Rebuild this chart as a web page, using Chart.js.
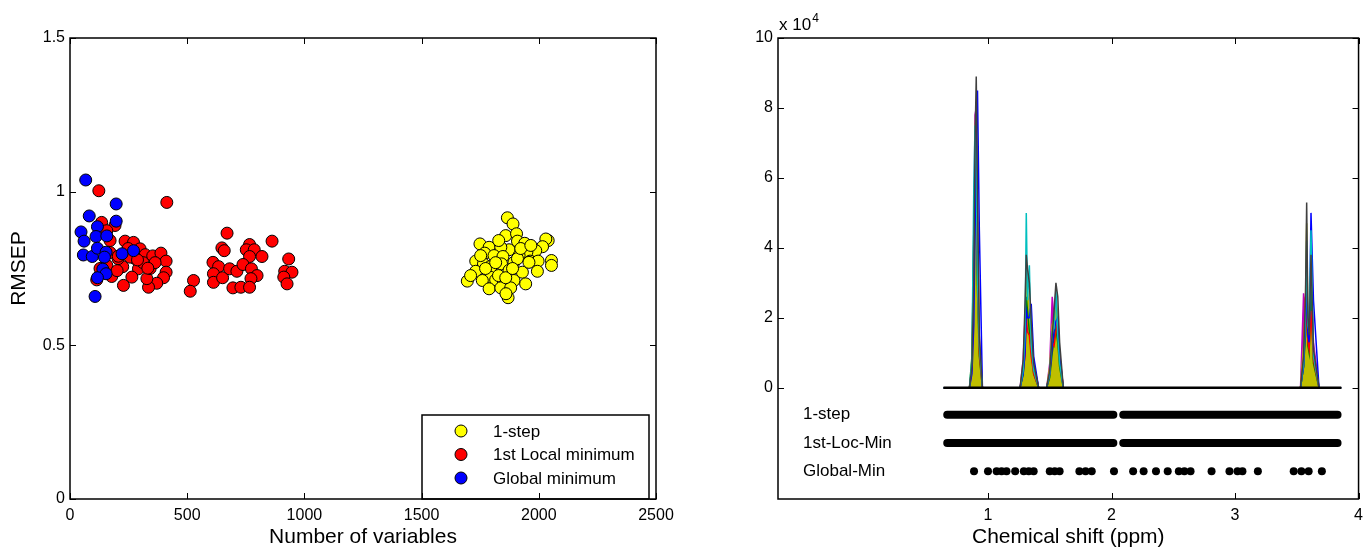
<!DOCTYPE html>
<html>
<head>
<meta charset="utf-8">
<title>RMSEP and selected variables</title>
<script src="https://cdn.jsdelivr.net/npm/chart.js@4.4.1/dist/chart.umd.min.js"></script>
<style>
  html, body { margin: 0; padding: 0; background: #fff; }
  #wrap { position: relative; width: 1370px; height: 548px; }
  .panel { position: absolute; top: 0; width: 685px; height: 548px; }
</style>
</head>
<body>
<div id="wrap">
  <div class="panel" style="left:0"><canvas id="rmsepChart" width="685" height="548"></canvas></div>
  <div class="panel" style="left:685px"><canvas id="specChart" width="685" height="548"></canvas></div>
</div>
<script>
// ---- left panel: RMSEP vs number of variables ----
const oneStepX = [1866, 1890, 1749, 1788, 1859, 1905, 1909, 1940, 2040, 2030, 2016, 1987, 1949, 1873, 1838,
  1769, 1809, 1847, 1916, 1963, 1997, 2054, 2054, 1731, 1764, 1792, 1841, 1894, 1731, 1795, 1873, 1930, 1994,
  1792, 1759, 1695, 1816, 1849, 1894, 1944, 1788, 1838, 1880, 1869, 1909, 1828, 1859, 1958, 1709, 1773, 1816,
  1923, 1966, 1829, 1752, 1888, 1860];
const oneStepY = [0.915, 0.895, 0.830, 0.819, 0.857, 0.863, 0.839, 0.832, 0.841, 0.846, 0.821, 0.808, 0.803, 0.811, 0.819,
  0.800, 0.792, 0.789, 0.792, 0.774, 0.774, 0.776, 0.760, 0.774, 0.765, 0.756, 0.765, 0.770, 0.741, 0.741, 0.744, 0.738, 0.741,
  0.722, 0.711, 0.709, 0.713, 0.706, 0.711, 0.700, 0.684, 0.687, 0.687, 0.655, 0.782, 0.727, 0.720, 0.770, 0.727, 0.750, 0.769,
  0.815, 0.825, 0.841, 0.792, 0.750, 0.668];

const localMinX = [123, 413, 135, 192, 157, 235, 271, 299, 321, 353, 388, 410, 410, 399, 370, 335, 328, 292, 264, 228,
  225, 178, 157, 114, 527, 513, 670, 648, 658, 766, 752, 786, 862, 819, 766, 610, 634, 612, 612, 651, 681, 712, 738,
  774, 798, 772, 695, 729, 766, 933, 916, 947, 912, 926, 171, 205, 248, 312, 342, 363, 201, 128, 278, 171, 206, 332,
  256, 288];
const localMinY = [1.003, 0.965, 0.900, 0.890, 0.873, 0.839, 0.835, 0.814, 0.795, 0.791, 0.800, 0.774, 0.738, 0.720, 0.702,
  0.689, 0.717, 0.749, 0.722, 0.695, 0.756, 0.724, 0.760, 0.713, 0.711, 0.676, 0.865, 0.817, 0.808, 0.828, 0.811, 0.811,
  0.839, 0.789, 0.789, 0.770, 0.756, 0.733, 0.705, 0.720, 0.749, 0.741, 0.763, 0.749, 0.727, 0.717, 0.687, 0.689, 0.689,
  0.781, 0.741, 0.738, 0.722, 0.700, 0.841, 0.782, 0.815, 0.769, 0.750, 0.769, 0.743, 0.750, 0.782, 0.802, 0.790, 0.751,
  0.787, 0.778];

const globalMinX = [67, 197, 82, 197, 47, 117, 60, 111, 157, 57, 95, 117, 154, 147, 222, 271, 140, 154, 117, 107];
const globalMinY = [1.038, 0.960, 0.921, 0.904, 0.869, 0.886, 0.839, 0.854, 0.856, 0.794, 0.789, 0.816, 0.803, 0.787,
  0.798, 0.808, 0.748, 0.733, 0.720, 0.659];

const varTicks = [0, 500, 1000, 1500, 2000, 2500];
const rmsepTicks = [0, 0.5, 1, 1.5];

// ---- right panel: spectra and selected variables ----
const specPpm = [0.64,
  0.85, 0.87, 0.885, 0.895, 0.905, 0.915, 0.93, 0.955,
  1.26, 1.285, 1.30, 1.31, 1.32, 1.335, 1.35, 1.37, 1.41,
  1.475, 1.50, 1.52, 1.535, 1.55, 1.565, 1.58, 1.61,
  3.53, 3.555, 3.57, 3.58, 3.59, 3.60, 3.615, 3.635, 3.68,
  3.86];
// intensities in units of 10^4
const specGreen = [0, 0, 0.9, 4.5, 5.5, 4.6, 2.8, 0.9, 0, 0, 0.4, 1.2, 2.6, 2.2, 1.6, 1.1, 0.4, 0,
  0, 0.3, 1.0, 1.4, 1.7, 1.3, 0.6, 0, 0, 0.6, 1.5, 2.6, 1.2, 1.0, 2.8, 0.7, 0, 0];
const specRed = [0, 0, 0.6, 3.4, 6.8, 5.5, 3.5, 1.0, 0, 0, 0.5, 0.9, 2.0, 1.6, 1.5, 0.9, 0.4, 0,
  0, 0.4, 1.3, 1.2, 1.6, 1.9, 0.8, 0, 0, 0.8, 2.6, 2.0, 1.3, 1.1, 2.2, 0.8, 0, 0];
const specYellow = [0, 0, 0.5, 3.0, 7.2, 8.2, 4.8, 1.2, 0, 0, 0.6, 1.4, 3.4, 2.8, 2.0, 1.2, 0.6, 0,
  0, 0.6, 1.8, 2.0, 2.5, 2.1, 0.9, 0, 0, 1.2, 2.4, 4.7, 1.7, 1.5, 3.5, 1.0, 0, 0];
const specMagenta = [0, 0, 0.6, 4.2, 7.8, 8.0, 4.4, 1.4, 0, 0, 0.8, 2.0, 3.0, 2.6, 2.2, 1.4, 0.7, 0,
  0, 0.7, 2.6, 2.0, 2.3, 1.8, 1.0, 0, 0, 2.7, 2.2, 3.6, 1.6, 1.4, 3.0, 1.3, 0, 0];
const specCyan = [0, 0, 0.8, 5.7, 7.5, 6.0, 3.2, 1.2, 0, 0, 0.5, 1.5, 5.0, 2.5, 3.5, 1.2, 0.5, 0,
  0, 0.4, 1.6, 1.7, 2.8, 1.5, 0.7, 0, 0, 0.7, 2.0, 4.2, 1.8, 1.6, 4.5, 0.9, 0, 0];
const specBlue = [0, 0, 0.4, 1.8, 4.5, 7.2, 8.5, 4.5, 0, 0, 0.4, 1.0, 2.2, 2.0, 2.0, 2.4, 0.9, 0,
  0, 0.4, 1.2, 1.6, 1.9, 2.0, 0.9, 0, 0, 0.6, 1.8, 3.0, 1.5, 1.3, 5.0, 2.5, 0, 0];
const specGray = [0, 0, 0.6, 3.0, 7.0, 8.9, 5.5, 1.5, 0, 0, 0.8, 2.4, 3.8, 3.4, 3.0, 1.9, 0.7, 0,
  0, 0.5, 1.5, 2.2, 3.0, 2.6, 1.3, 0, 0, 0.9, 2.5, 5.3, 2.0, 1.5, 3.8, 1.1, 0, 0];

const baselinePpm = [0.64, 3.86];

// rows of selected variables (drawn below the spectra)
const rowLabels = ["1-step", "1st-Loc-Min", "Global-Min"];
const rowLevels = [-0.77, -1.58, -2.39];
const oneStepSpans = [[0.67, 2.015], [2.095, 3.83]];
const locMinSpans = [[0.67, 2.015], [2.095, 3.83]];
const globalMinPpm = [0.887, 1.0, 1.07, 1.11, 1.15, 1.22, 1.29, 1.33, 1.37, 1.50, 1.54, 1.58, 1.74, 1.79, 1.84,
  2.02, 2.175, 2.26, 2.36, 2.455, 2.545, 2.59, 2.64, 2.81, 2.955, 3.02, 3.06, 3.185, 3.475, 3.537, 3.596, 3.703];

const shiftTicks = [1, 2, 3, 4];
const intensityTicks = [0, 2, 4, 6, 8, 10];

// ---------------------------------------------------------------
const FONT = "'Liberation Sans', Arial, Helvetica, sans-serif";
Chart.defaults.font.family = FONT;
Chart.defaults.color = "#000";

function toPoints(xs, ys) {
  return xs.map((x, i) => ({ x: x, y: ys[i] }));
}

function spansToPoints(spans, level) {
  const pts = [];
  spans.forEach((s, i) => {
    if (i > 0) pts.push({ x: (spans[i - 1][1] + s[0]) / 2, y: null });
    pts.push({ x: s[0], y: level }, { x: s[1], y: level });
  });
  return pts;
}

// box + inward ticks on all four sides, like matlab axes
const framePlugin = {
  id: "frame",
  afterDatasetsDraw(chart) {
    const { ctx, chartArea: a, scales } = chart;
    const len = 6;
    ctx.save();
    ctx.strokeStyle = "#000";
    ctx.lineWidth = 1.5;
    ctx.strokeRect(a.left, a.top, a.right - a.left, a.bottom - a.top);
    ctx.lineWidth = 1;
    ctx.beginPath();
    scales.x.ticks.forEach(t => {
      const px = Math.round(scales.x.getPixelForValue(t.value)) + 0.5;
      ctx.moveTo(px, a.bottom); ctx.lineTo(px, a.bottom - len);
      ctx.moveTo(px, a.top); ctx.lineTo(px, a.top + len);
    });
    scales.y.ticks.forEach(t => {
      const py = Math.round(scales.y.getPixelForValue(t.value)) + 0.5;
      ctx.moveTo(a.left, py); ctx.lineTo(a.left + len, py);
      ctx.moveTo(a.right, py); ctx.lineTo(a.right - len, py);
    });
    ctx.stroke();
    ctx.restore();
  }
};

// boxed legend in the lower right corner of the left axes
const boxLegend = {
  id: "boxLegend",
  afterDatasetsDraw(chart) {
    const { ctx, chartArea: a } = chart;
    const left = a.right - 234, right = a.right - 7;
    const top = a.bottom - 84, bottom = a.bottom;
    ctx.save();
    ctx.fillStyle = "#fff";
    ctx.fillRect(left, top, right - left, bottom - top);
    ctx.strokeStyle = "#000";
    ctx.lineWidth = 1.5;
    ctx.strokeRect(left, top, right - left, bottom - top);
    ctx.font = "17px " + FONT;
    ctx.textBaseline = "middle";
    ctx.textAlign = "left";
    chart.data.datasets.forEach((ds, i) => {
      const y = top + 16 + i * 23.5;
      ctx.beginPath();
      ctx.arc(left + 39, y, 6, 0, Math.PI * 2);
      ctx.fillStyle = ds.backgroundColor;
      ctx.fill();
      ctx.lineWidth = 1;
      ctx.strokeStyle = "#000";
      ctx.stroke();
      ctx.fillStyle = "#000";
      ctx.fillText(ds.label, left + 71, y + 1);
    });
    ctx.restore();
  }
};

// "x 10^4" exponent and the row labels of the right axes
const specNotes = {
  id: "specNotes",
  afterDraw(chart) {
    const { ctx, chartArea: a, scales } = chart;
    ctx.save();
    ctx.fillStyle = "#000";
    ctx.textAlign = "left";
    ctx.textBaseline = "alphabetic";
    ctx.font = "17px " + FONT;
    ctx.fillText("x 10", a.left + 1, 30);
    const w = ctx.measureText("x 10").width;
    ctx.font = "12px " + FONT;
    ctx.fillText("4", a.left + 2 + w, 22);
    ctx.font = "17px " + FONT;
    ctx.textBaseline = "middle";
    rowLabels.forEach((lab, i) => {
      ctx.fillText(lab, a.left + 25, scales.y.getPixelForValue(rowLevels[i]));
    });
    ctx.restore();
  }
};

const tickFont = { size: 16, family: FONT };
const titleFont = { size: 21, family: FONT };
const noGrid = { display: false, drawTicks: false };

// ---- left chart ----
const rmsepData = {
  datasets: [
    { label: "1-step", data: toPoints(oneStepX, oneStepY), backgroundColor: "#ffff00", order: 3 },
    { label: "1st Local minimum", data: toPoints(localMinX, localMinY), backgroundColor: "#ff0000", order: 2 },
    { label: "Global minimum", data: toPoints(globalMinX, globalMinY), backgroundColor: "#0000ff", order: 1 }
  ]
};
rmsepData.datasets.forEach(ds => {
  ds.pointRadius = 6;
  ds.pointBorderWidth = 1;
  ds.borderColor = "#000";
  ds.pointBorderColor = "#000";
  ds.pointBackgroundColor = ds.backgroundColor;
});

const rmsepConfig = {
  type: "scatter",
  data: rmsepData,
  options: {
    responsive: false,
    animation: false,
    events: [],
    layout: { padding: { left: 0, right: 29, top: 38, bottom: 0 } },
    plugins: { legend: { display: false }, tooltip: { enabled: false } },
    scales: {
      x: {
        type: "linear", min: 0, max: 2500,
        grid: noGrid, border: { display: false },
        afterBuildTicks: s => { s.ticks = varTicks.map(v => ({ value: v })); },
        afterFit: s => { s.height = 49; },
        ticks: { font: tickFont, padding: 7, maxRotation: 0, callback: v => String(v) },
        title: { display: true, text: "Number of variables", font: titleFont, padding: { top: 0, bottom: -2 } }
      },
      y: {
        type: "linear", min: 0, max: 1.5,
        grid: noGrid, border: { display: false },
        afterBuildTicks: s => { s.ticks = rmsepTicks.map(v => ({ value: v })); },
        afterFit: s => { s.width = 70; },
        ticks: { font: tickFont, padding: 5, callback: v => String(v) },
        title: { display: true, text: "RMSEP", font: titleFont, padding: { top: 7, bottom: 0 } }
      }
    }
  },
  plugins: [boxLegend, framePlugin]
};

const rmsepChart = new Chart(document.getElementById("rmsepChart"), rmsepConfig);

// ---- right chart ----
// back to front; the first two are filled so the peaks read as solid bands
const traceColors = [
  ["#bf00bf", specMagenta, true], ["#bfbf00", specYellow, true],
  ["#008000", specGreen, false], ["#ff0000", specRed, false], ["#0000ff", specBlue, false],
  ["#00bfbf", specCyan, false], ["#404040", specGray, false]
];

const specDatasets = traceColors.map((tc, i) => ({
  type: "line",
  data: toPoints(specPpm, tc[1]),
  borderColor: tc[0],
  backgroundColor: tc[0],
  fill: tc[2] ? "origin" : false,
  borderWidth: 1.5,
  pointRadius: 0,
  tension: 0,
  order: 20 - i
}));

specDatasets.push({
  type: "line",
  data: baselinePpm.map(x => ({ x: x, y: 0 })),
  borderColor: "#000",
  borderWidth: 2.5,
  pointRadius: 0,
  order: 5
});

[oneStepSpans, locMinSpans].forEach((spans, i) => {
  specDatasets.push({
    type: "line",
    data: spansToPoints(spans, rowLevels[i]),
    borderColor: "#000",
    borderWidth: 8,
    borderCapStyle: "round",
    spanGaps: false,
    pointRadius: 0,
    order: 4
  });
});

specDatasets.push({
  type: "scatter",
  data: globalMinPpm.map(x => ({ x: x, y: rowLevels[2] })),
  backgroundColor: "#000",
  borderColor: "#000",
  pointRadius: 4,
  pointBorderWidth: 0,
  order: 3
});

const specConfig = {
  type: "line",
  data: { datasets: specDatasets },
  options: {
    responsive: false,
    animation: false,
    events: [],
    layout: { padding: { left: 0, right: 8, top: 38, bottom: 0 } },
    plugins: { legend: { display: false }, tooltip: { enabled: false } },
    scales: {
      x: {
        type: "linear", min: -0.7, max: 4,
        grid: noGrid, border: { display: false },
        afterBuildTicks: s => { s.ticks = shiftTicks.map(v => ({ value: v })); },
        afterFit: s => { s.height = 49; },
        ticks: { font: tickFont, padding: 7, maxRotation: 0, callback: v => String(v) },
        title: { display: true, text: "Chemical shift (ppm)", font: titleFont, padding: { top: 0, bottom: -2 } }
      },
      y: {
        type: "linear", min: -3.18, max: 10,
        grid: noGrid, border: { display: false },
        afterBuildTicks: s => { s.ticks = intensityTicks.map(v => ({ value: v })); },
        afterFit: s => { s.width = 93; },
        ticks: { font: tickFont, padding: 5, callback: v => String(v) }
      }
    }
  },
  plugins: [framePlugin, specNotes]
};

const specChart = new Chart(document.getElementById("specChart"), specConfig);
</script>
</body>
</html>
